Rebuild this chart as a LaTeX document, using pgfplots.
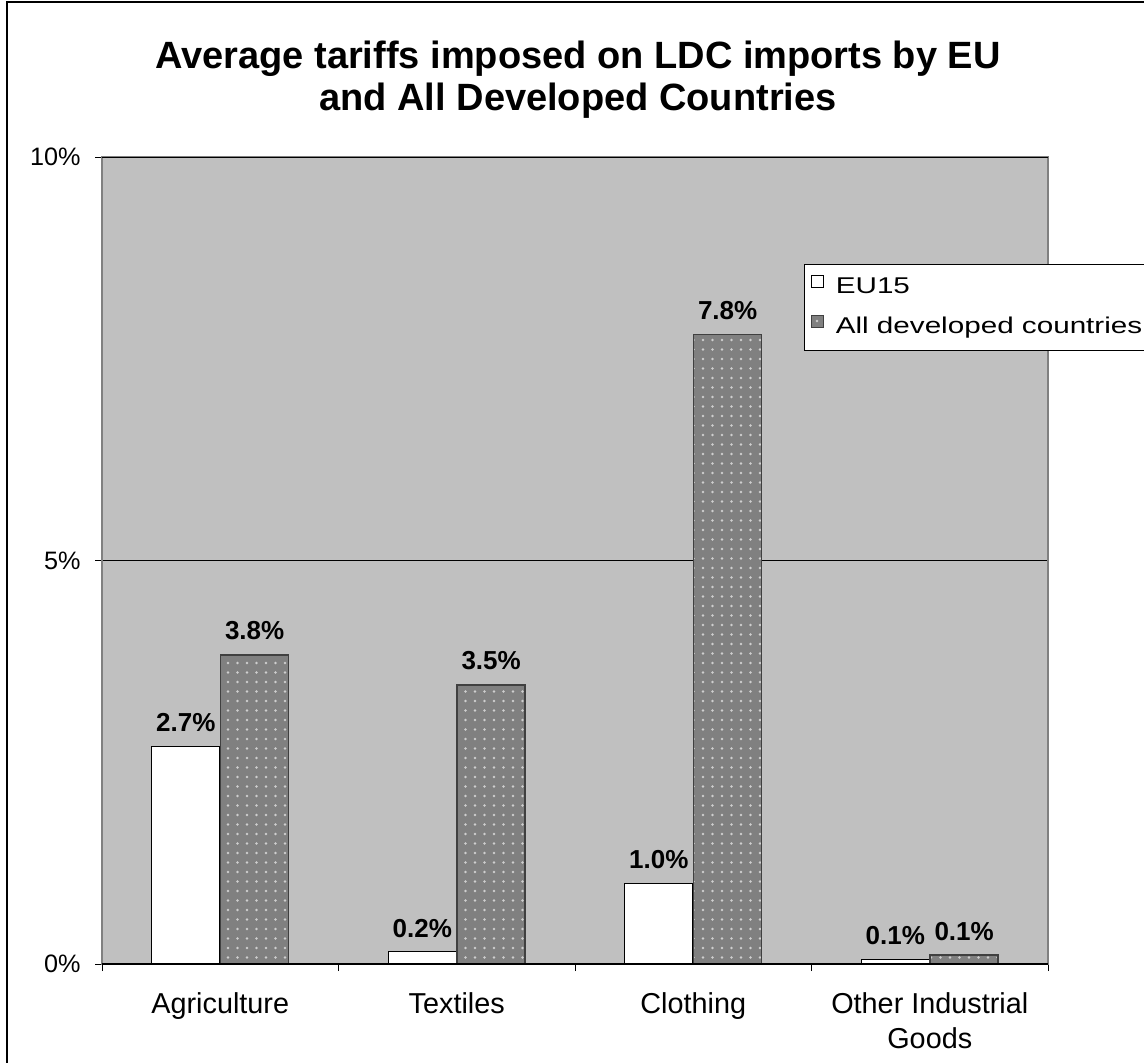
\documentclass[border=0pt]{standalone}
\usepackage{fontspec}
\setmainfont{Liberation Sans}
\newfontfamily\legendfont{Liberation Sans}[FakeStretch=1.3]
\usepackage{pgfplots}
\pgfplotsset{compat=1.18}
\usetikzlibrary{patterns.meta}
\definecolor{plotbg}{HTML}{C0C0C0}
\definecolor{bargray}{HTML}{808080}
\definecolor{dotgray}{HTML}{CFCFCF}
\definecolor{edgegray}{HTML}{404040}
\definecolor{axgray}{HTML}{808080}
\pgfplotsset{sqlegend/.style={legend image code/.code={\draw[##1,line width=0.5pt] (0pt,0pt) rectangle (6pt,6pt);}}}
\begin{document}
\begin{tikzpicture}
\draw[line width=0.6pt] (3.5pt,-20pt) rectangle (600pt,530pt);
\node[anchor=base, font=\bfseries\fontsize{19}{21}\selectfont] at (289pt,496.5pt) {Average tariffs imposed on LDC imports by EU};
\node[anchor=base, font=\bfseries\fontsize{19}{21}\selectfont] at (289pt,475.65pt) {and All Developed Countries};
\begin{axis}[
  at={(51pt,49pt)}, anchor=south west,
  width=473pt, height=403.5pt, scale only axis,
  ybar,
  xmin=-0.5, xmax=3.5, ymin=0, ymax=10,
  axis background/.style={fill=plotbg},
  axis line style={draw=axgray, line width=0.8pt},
  xtick={-0.5,0.5,1.5,2.5,3.5},
  xticklabels={Agriculture,Textiles,Clothing,{Other Industrial\\Goods}},
  x tick label as interval,
  ytick={0,5,10},
  yticklabels={0\%,5\%,10\%},
  ymajorgrids, grid style={black, line width=0.5pt},
  tick align=outside, major tick length=3.5pt,
  tick style={black, line width=0.5pt},
  tick pos=left,
  xticklabel style={font=\fontsize{14.4}{17.35}\selectfont, align=center, anchor=north, inner sep=0pt, yshift=-10.6pt},
  yticklabel style={font=\fontsize{12.6}{14}\selectfont, anchor=east, inner sep=0pt, xshift=-7pt},
  point meta=explicit symbolic,
  nodes near coords,
  nodes near coords style={font=\bfseries\fontsize{13}{15}\selectfont, inner sep=0pt, yshift=7pt},
  legend style={at={(axis description cs:0.742,0.8674)}, anchor=north west,
    draw=black, line width=0.5pt, fill=white,
    font=\legendfont\fontsize{11.4}{13}\selectfont,
    inner xsep=3.3pt, inner ysep=2pt, row sep=1pt, column sep=5.9pt,
    nodes={inner sep=0pt, text height=12.5pt, text depth=6.5pt}},
  legend cell align=left,
]
\addplot[bar width=0.2875, bar shift=-0.1455, fill=white, draw=black, line width=0.5pt, sqlegend]
  coordinates {(0,2.70) [2.7\%] (1,0.15) [0.2\%] (2,1.00) [1.0\%] (3,0.06) [0.1\%]};
\addlegendentry{EU15}
\addplot[bar width=0.2875, bar shift=0.1455, fill=bargray, draw=edgegray, line width=0.8pt,
  postaction={pattern={Dots[distance=4.75pt,radius=0.65pt]}, pattern color=dotgray}, sqlegend]
  coordinates {(0,3.83) [3.8\%] (1,3.46) [3.5\%] (2,7.80) [7.8\%] (3,0.11) [0.1\%]};
\addlegendentry{All developed countries}
\draw[black, line width=0.6pt] (axis cs:-0.5,0) -- (axis cs:3.5,0);
\draw[black, line width=0.6pt] (axis cs:-0.5,10) -- (axis cs:3.5,10);
\end{axis}
\pgfresetboundingbox
\useasboundingbox (0pt,0pt) rectangle (572pt,531pt);
\end{tikzpicture}
\end{document}
